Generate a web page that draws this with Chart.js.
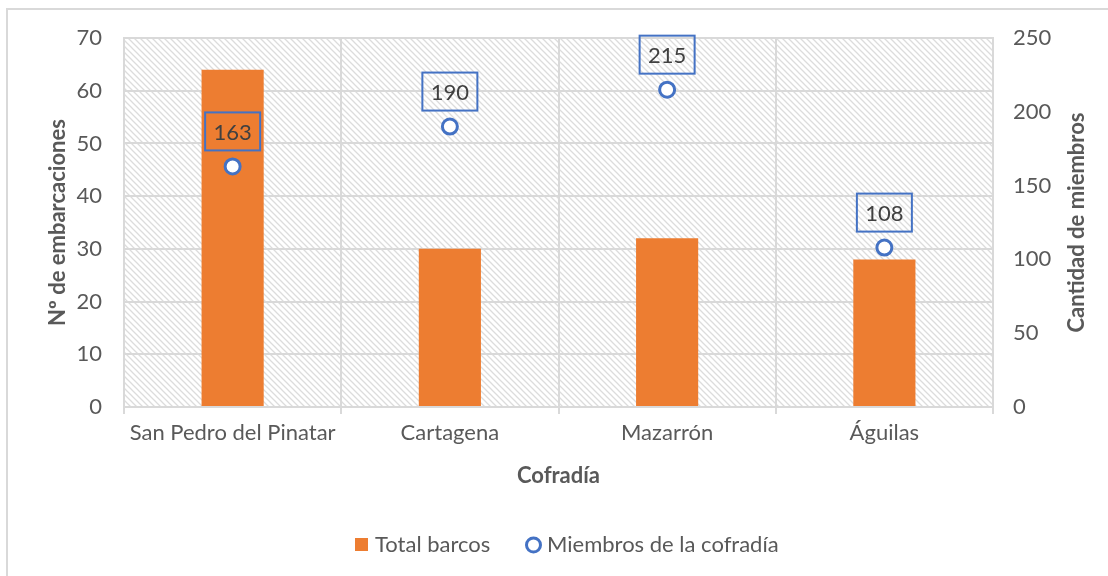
<!DOCTYPE html>
<html>
<head>
<meta charset="utf-8">
<script src="https://cdn.jsdelivr.net/npm/chart.js@4/dist/chart.umd.min.js"></script>
<style>
  html, body { margin: 0; padding: 0; background: #fff; }
  #wrap { width: 1108px; height: 576px; position: relative; }
</style>
</head>
<body>
<div id="wrap"><canvas id="myChart" width="1108" height="576"></canvas></div>
<script>
// datos
var cofradias = ['San Pedro del Pinatar', 'Cartagena', 'Mazarrón', 'Águilas'];
var totalBarcos = [64, 30, 32, 28];
var miembros = [163, 190, 215, 108];
var ticksIzq = [0, 10, 20, 30, 40, 50, 60, 70];
var ticksDer = [0, 50, 100, 150, 200, 250];

var naranja = '#ED7D31';
var azul = '#4472C4';
var gris = '#595959';
var rejilla = '#d9d9d9';
var fuente = 'Lato, "Open Sans", sans-serif';
var tam = 22;

// trama diagonal del fondo
function hacerTrama() {
  var s = 6;
  var c = document.createElement('canvas');
  c.width = s; c.height = s;
  var g = c.getContext('2d');
  g.fillStyle = '#fff';
  g.fillRect(0, 0, s, s);
  g.strokeStyle = '#dcdcdc';
  g.lineWidth = 1.3;
  g.beginPath();
  g.moveTo(-1, -1); g.lineTo(s + 1, s + 1);
  g.moveTo(-1, s - 1); g.lineTo(1, s + 1);
  g.moveTo(s - 1, -1); g.lineTo(s + 1, 1);
  g.stroke();
  return g.createPattern(c, 'repeat');
}

var fondo = {
  id: 'fondo',
  beforeDraw: function (chart) {
    var ctx = chart.ctx, a = chart.chartArea;
    ctx.save();
    ctx.fillStyle = hacerTrama();
    ctx.fillRect(a.left, a.top, a.right - a.left, a.bottom - a.top);
    ctx.restore();
  },
  afterDraw: function (chart) {
    var ctx = chart.ctx, a = chart.chartArea;
    ctx.save();
    // marco exterior
    ctx.strokeStyle = rejilla;
    ctx.lineWidth = 2;
    ctx.beginPath();
    ctx.moveTo(7, 577); ctx.lineTo(7, 9); ctx.lineTo(1110, 9);
    ctx.stroke();
    // titulo eje derecho (de abajo a arriba)
    ctx.translate(1077, (a.top + a.bottom) / 2);
    ctx.rotate(-Math.PI / 2);
    ctx.fillStyle = gris;
    ctx.font = 'bold ' + tam + 'px ' + fuente;
    ctx.textAlign = 'center';
    ctx.textBaseline = 'middle';
    ctx.fillText('Cantidad de miembros', 0, 0);
    ctx.restore();

    // etiquetas con recuadro
    var meta = chart.getDatasetMeta(1);
    ctx.save();
    ctx.font = '22px ' + fuente;
    ctx.textAlign = 'center';
    ctx.textBaseline = 'middle';
    meta.data.forEach(function (p, i) {
      var txt = String(miembros[i]);
      var w = 55, h = 38;
      var cx = p.x, cy = p.y - 35;
      ctx.strokeStyle = azul;
      ctx.lineWidth = 2;
      ctx.strokeRect(cx - w / 2, cy - h / 2, w, h);
      ctx.fillStyle = '#404040';
      ctx.fillText(txt, cx, cy + 1);
    });
    ctx.restore();

    // leyenda
    var ly = 545;
    ctx.save();
    ctx.fillStyle = naranja;
    ctx.fillRect(355, ly - 7, 13, 13);
    ctx.beginPath();
    ctx.arc(533.5, ly, 7, 0, Math.PI * 2);
    ctx.fillStyle = '#fff';
    ctx.fill();
    ctx.strokeStyle = azul;
    ctx.lineWidth = 3;
    ctx.stroke();
    ctx.fillStyle = gris;
    ctx.font = tam + 'px ' + fuente;
    ctx.textAlign = 'left';
    ctx.textBaseline = 'middle';
    ctx.fillText(chart.data.datasets[0].label, 375, ly);
    ctx.fillText(chart.data.datasets[1].label, 547, ly);
    ctx.restore();
  }
};

var ctx = document.getElementById('myChart').getContext('2d');
var myChart = new Chart(ctx, {
  type: 'bar',
  data: {
    labels: cofradias,
    datasets: [{
      label: 'Total barcos',
      data: totalBarcos,
      backgroundColor: naranja,
      borderWidth: 0,
      yAxisID: 'y',
      categoryPercentage: 1,
      barPercentage: 0.286,
      order: 2
    },
    {
      type: 'line',
      label: 'Miembros de la cofradía',
      data: miembros,
      yAxisID: 'y1',
      showLine: false,
      pointRadius: 7.5,
      pointHoverRadius: 7.5,
      pointBorderWidth: 3,
      pointBackgroundColor: '#fff',
      pointBorderColor: azul,
      borderColor: azul,
      backgroundColor: '#fff',
      order: 1
    }]
  },
  options: {
    responsive: false,
    animation: false,
    events: [],
    layout: { padding: { left: 0, right: 0, top: 38, bottom: 0 } },
    plugins: {
      tooltip: { enabled: false },
      legend: { display: false }
    },
    scales: {
      x: {
        afterFit: function (s) { s.height = 169; },
        grid: { color: rejilla, lineWidth: 2, tickLength: 7, offset: true },
        border: { color: rejilla, width: 2 },
        ticks: { color: gris, font: { family: fuente, size: tam }, padding: 6, maxRotation: 0 },
        title: {
          display: true, text: 'Cofradía', color: gris,
          font: { family: fuente, size: tam, weight: 'bold' },
          padding: { top: 0, bottom: 87 }
        }
      },
      y: {
        position: 'left',
        min: 0, max: 70,
        afterFit: function (s) { s.width = 124; },
        afterBuildTicks: function (s) { s.ticks = ticksIzq.map(function (v) { return { value: v }; }); },
        grid: { color: rejilla, lineWidth: 2, drawTicks: false },
        border: { color: rejilla, width: 2 },
        ticks: { color: gris, font: { family: fuente, size: tam }, padding: 22 },
        title: {
          display: true, text: 'Nº de embarcaciones', color: gris,
          font: { family: fuente, size: tam, weight: 'bold' },
          padding: { top: 45, bottom: 0 }
        }
      },
      y1: {
        position: 'right',
        min: 0, max: 250,
        afterFit: function (s) { s.width = 115; },
        afterBuildTicks: function (s) { s.ticks = ticksDer.map(function (v) { return { value: v }; }); },
        grid: { drawOnChartArea: false, drawTicks: false },
        border: { color: rejilla, width: 2 },
        ticks: { color: gris, font: { family: fuente, size: tam }, padding: 20 }
      }
    }
  },
  plugins: [fondo]
});
</script>
</body>
</html>
